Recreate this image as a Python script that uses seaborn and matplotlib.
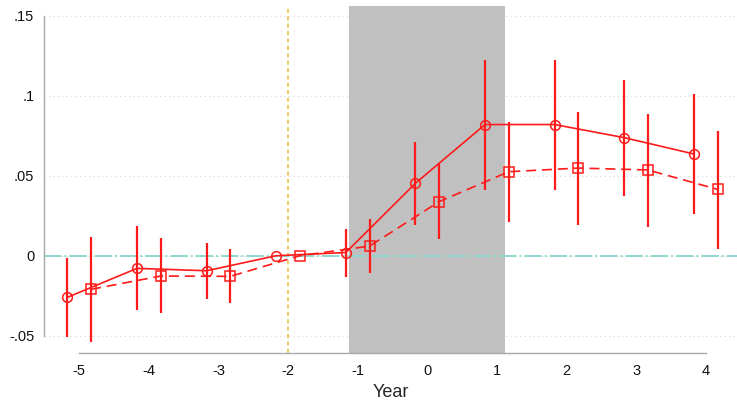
import numpy as np
import pandas as pd
import matplotlib.pyplot as plt
import seaborn as sns

# event time (years relative to treatment)
years = [-5, -4, -3, -2, -1, 0, 1, 2, 3, 4]

# series A (circles, solid) -- plotted slightly left of each year
coef_a = [-0.026, -0.0079, -0.0094, 0.0, 0.0020, 0.0453, 0.0820, 0.0820, 0.0738, 0.0636]
lo_a = [-0.0508, -0.0341, -0.0269, np.nan, -0.0131, 0.0192, 0.0410, 0.0410, 0.0373, 0.0259]
hi_a = [-0.0016, 0.0186, 0.0078, np.nan, 0.0170, 0.0709, 0.1223, 0.1223, 0.1098, 0.1011]

# series B (squares, dashed) -- plotted slightly right of each year
coef_b = [-0.0210, -0.0127, -0.0129, 0.0, 0.0060, 0.0338, 0.0525, 0.0548, 0.0536, 0.0415]
lo_b = [-0.0538, -0.0360, -0.0294, np.nan, -0.0110, 0.0104, 0.0209, 0.0192, 0.0181, 0.0042]
hi_b = [0.0119, 0.0109, 0.0040, np.nan, 0.0228, 0.0573, 0.0838, 0.0900, 0.0884, 0.0781]

offset = 0.17
shade = (-1.12, 1.12)
ref_year = -2
yticks = [-0.05, 0, 0.05, 0.1, 0.15]
ytick_labels = ["-.05", "0", ".05", ".1", ".15"]

df = pd.DataFrame({
    "year": years,
    "xa": np.array(years) - offset,
    "xb": np.array(years) + offset,
    "coef_a": coef_a, "lo_a": lo_a, "hi_a": hi_a,
    "coef_b": coef_b, "lo_b": lo_b, "hi_b": hi_b,
})

sns.set_style("white")
plt.rcParams["font.family"] = ["Liberation Sans", "DejaVu Sans"]

fig = plt.figure(figsize=(7.37, 4.01), dpi=100)
ax = fig.add_axes([44 / 737, 1 - 353.3 / 401, 1 - 44 / 737, (353.3 - 6) / 401])

red = "#FF1A1A"

# background elements
for yt in yticks:
    ax.axhline(yt, color="#D8D8D8", lw=0.8, ls=(0, (1, 3)), zorder=0)
ax.axvspan(*shade, color="#C0C0C0", lw=0, zorder=1)
ax.axvline(ref_year, color="#F3C966", lw=1.4, ls=(0, (2.2, 1.6)), zorder=2)
ax.axhline(0, color="#8ED9D1", lw=1.4, ls=(0, (9, 1.5, 1, 1.5)), zorder=2)

# confidence intervals
ax.vlines(df["xa"], df["lo_a"], df["hi_a"], color=red, lw=1.6, zorder=3)
ax.vlines(df["xb"], df["lo_b"], df["hi_b"], color=red, lw=1.6, zorder=3)

# point estimates
sns.lineplot(data=df, x="xa", y="coef_a", ax=ax, color=red, lw=1.2,
             marker="o", markersize=7, markerfacecolor="none",
             markeredgecolor=red, markeredgewidth=1.1, zorder=4)
sns.lineplot(data=df, x="xb", y="coef_b", ax=ax, color=red, lw=1.2,
             linestyle=(0, (6, 3.5)), marker="s", markersize=6.5,
             markerfacecolor="none", markeredgecolor=red,
             markeredgewidth=1.1, zorder=4)

ax.set_xlim(-5.507, 4.45)
ax.set_ylim(-0.061, 0.1561)
ax.set_xticks(years)
ax.set_xticklabels([str(y) for y in years])
ax.set_yticks(yticks)
ax.set_yticklabels(ytick_labels)

for side in ["top", "right"]:
    ax.spines[side].set_visible(False)
ax.spines["left"].set_bounds(-0.05, 0.15)
ax.spines["bottom"].set_bounds(-5, 4)
for side in ["left", "bottom"]:
    ax.spines[side].set_color("#A8A8A8")
    ax.spines[side].set_linewidth(1.0)
ax.tick_params(axis="both", which="major", direction="out", length=5,
               width=1.0, color="#A8A8A8", labelsize=10.5, labelcolor="#111111")
ax.tick_params(axis="x", pad=3)
ax.tick_params(axis="y", pad=2)
ax.set_xlabel("Year", fontsize=13, labelpad=4)
ax.set_ylabel("")
ax.grid(False)

fig.savefig("out.png", dpi=100)
